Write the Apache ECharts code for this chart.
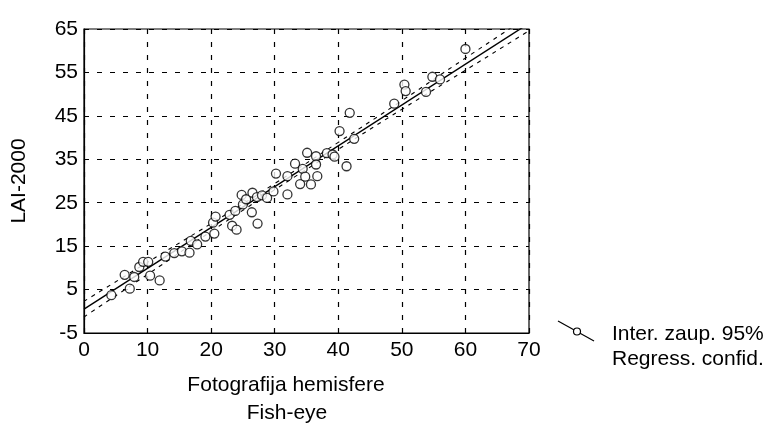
<!DOCTYPE html>
<html>
<head>
<meta charset="utf-8">
<script src="https://cdn.jsdelivr.net/npm/echarts@6/dist/echarts.min.js"></script>
<style>
  html, body { margin: 0; padding: 0; background: #fff; }
  #chart { width: 774px; height: 434px; }
</style>
</head>
<body>
<div id="chart"></div>
<script>
// Fish-eye (x) vs LAI-2000 (y)
const fishEye = [4.3, 6.4, 7.2, 7.9, 8.7, 9.3, 10.1, 10.4, 11.9, 12.8, 14.2, 15.4, 16.6, 16.8, 17.8,
  19.1, 20.5, 20.3, 20.7, 22.9, 23.8, 23.3, 24.0, 25.0, 24.8, 25.5, 26.5, 26.4, 27.2, 27.3,
  28.0, 28.8, 29.8, 30.2, 32.0, 32.0, 33.2, 34.0, 34.4, 34.8, 35.1, 35.7, 36.5, 36.5, 36.7,
  38.2, 39.1, 39.4, 40.2, 41.3, 41.8, 42.5, 48.8, 50.4, 50.6, 53.8, 54.8, 56.0, 60.0];
const lai2000 = [3.7, 8.4, 5.2, 7.9, 10.2, 11.4, 11.4, 8.2, 7.1, 12.6, 13.4, 13.8, 13.5, 16.2, 15.4,
  17.2, 17.9, 20.4, 21.8, 22.2, 23.1, 19.7, 18.8, 24.6, 26.8, 25.8, 27.3, 22.8, 26.3, 20.2,
  26.7, 26.1, 27.6, 31.7, 26.9, 31.1, 34.0, 29.3, 32.8, 31.0, 36.5, 29.2, 35.7, 33.8, 31.1,
  36.4, 36.1, 35.6, 41.5, 33.4, 45.7, 39.7, 47.8, 52.2, 50.7, 50.5, 54.0, 53.4, 60.4];

// regression line and 95% confidence band
const regX = [0, 70];
const regY = [0.5, 66.3];
const bandX = [0, 10, 20, 30, 40, 50, 60, 70];
const bandUpper = [2.3, 11.3, 20.2, 29.4, 38.9, 48.5, 58.3, 68.0];
const bandLower = [-1.3, 8.5, 18.4, 28.0, 37.3, 46.5, 55.5, 64.6];

const xTicks = [0, 10, 20, 30, 40, 50, 60, 70];
const yTicks = [-5, 5, 15, 25, 35, 45, 55, 65];

const font = 'Liberation Sans, Arial, sans-serif';
const pairs = (xs, ys) => xs.map((x, i) => [x, ys[i]]);

const chart = echarts.init(document.getElementById('chart'));
const dashLine = { type: [5, 8], color: '#000', width: 1.2 };

chart.setOption({
  animation: false,
  backgroundColor: '#fff',
  grid: { left: 84, right: 245, top: 29, bottom: 101, show: true, borderColor: '#000', borderWidth: 1.2 },
  xAxis: {
    type: 'value', min: xTicks[0], max: xTicks[xTicks.length - 1], interval: 10,
    axisLine: { onZero: false, lineStyle: { color: '#000', width: 1.2 } },
    axisTick: { show: false },
    axisLabel: { color: '#000', fontSize: 21, fontFamily: font, margin: 7 },
    splitLine: { show: true, lineStyle: dashLine }
  },
  yAxis: {
    type: 'value', min: yTicks[0], max: yTicks[yTicks.length - 1], interval: 10,
    name: 'LAI-2000', nameLocation: 'middle', nameGap: 54,
    nameTextStyle: { color: '#000', fontSize: 21, fontFamily: font },
    axisLine: { show: true, onZero: false, lineStyle: { color: '#000', width: 1.2 } },
    axisTick: { show: false },
    axisLabel: { color: '#000', fontSize: 21, fontFamily: font, margin: 6 },
    splitLine: { show: true, lineStyle: dashLine }
  },
  series: [
    {
      type: 'line', data: pairs(bandX, bandUpper), smooth: true, symbol: 'none',
      lineStyle: { color: '#000', width: 1.1, type: [4, 5] }, z: 3
    },
    {
      type: 'line', data: pairs(bandX, bandLower), smooth: true, symbol: 'none',
      lineStyle: { color: '#000', width: 1.1, type: [4, 5] }, z: 3
    },
    {
      type: 'line', data: pairs(regX, regY), symbol: 'none',
      lineStyle: { color: '#000', width: 1.4 }, z: 4
    },
    {
      type: 'scatter', data: pairs(fishEye, lai2000), symbol: 'circle', symbolSize: 9,
      itemStyle: { color: '#fff', borderColor: '#000', borderWidth: 1.3 }, z: 5
    }
  ],
  graphic: [
    { type: 'text', x: 286, y: 385, style: { text: 'Fotografija hemisfere', font: '21px ' + font, fill: '#000', align: 'center', verticalAlign: 'middle' } },
    { type: 'text', x: 287, y: 413, style: { text: 'Fish-eye', font: '21px ' + font, fill: '#000', align: 'center', verticalAlign: 'middle' } },
    { type: 'polyline', shape: { points: [[558, 321], [594, 341]] }, style: { stroke: '#000', lineWidth: 1.2, fill: null } },
    { type: 'circle', shape: { cx: 577, cy: 331.5, r: 3.5 }, style: { fill: '#fff', stroke: '#000', lineWidth: 1.2 }, z: 10 },
    { type: 'text', x: 612, y: 334, style: { text: 'Inter. zaup. 95%', font: '21px ' + font, fill: '#000', verticalAlign: 'middle' } },
    { type: 'text', x: 612, y: 359, style: { text: 'Regress. confid.', font: '21px ' + font, fill: '#000', verticalAlign: 'middle' } }
  ]
});
</script>
</body>
</html>
